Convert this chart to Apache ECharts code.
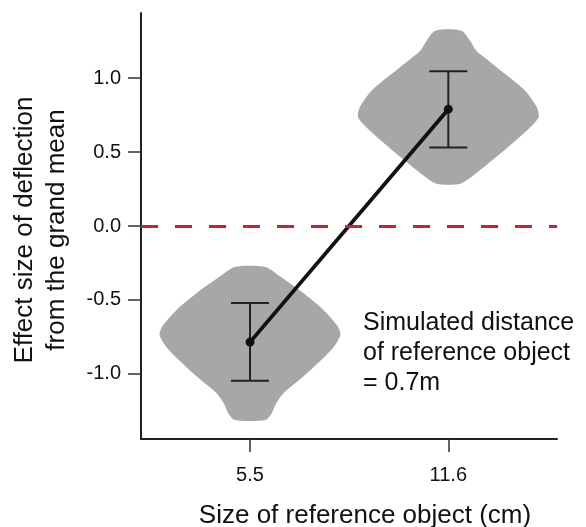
<!DOCTYPE html>
<html><head><meta charset="utf-8">
<script src="https://cdn.jsdelivr.net/npm/echarts@6/dist/echarts.min.js"></script>
<style>html,body{margin:0;padding:0;background:#fff}#c{width:586px;height:527px}</style>
</head><body><div id="c"></div>
<script>
// ---- data ----
const categories = ['5.5', '11.6'];
const categoryPos = [0, 1];
const means = [-0.785, 0.79];
const ciLow = [-1.047, 0.53];
const ciHigh = [-0.52, 1.047];
const yTicks = [-1.0, -0.5, 0.0, 0.5, 1.0];
const referenceValue = 0;
// violin outlines: y values and relative density (0..1)
const violinLeftY = [-0.277, -0.340, -0.453, -0.566, -0.679, -0.736, -0.815, -0.905, -1.018, -1.131, -1.199, -1.266, -1.312];
const violinLeftD = [0.17, 0.33, 0.59, 0.81, 0.97, 1.0, 0.93, 0.79, 0.59, 0.37, 0.29, 0.24, 0.17];
const violinRightY = [1.321, 1.253, 1.185, 1.140, 1.027, 0.914, 0.801, 0.738, 0.688, 0.575, 0.462, 0.349, 0.286];
const violinRightD = [0.14, 0.24, 0.31, 0.40, 0.63, 0.85, 0.98, 1.0, 0.94, 0.74, 0.52, 0.29, 0.13];
const yTitle = 'Effect size of deflection\nfrom the grand mean';
const xTitle = 'Size of reference object (cm)';
const note = 'Simulated distance\nof reference object\n= 0.7m';

// ---- chart ----
const FONT = "'Liberation Sans', Arial, Helvetica, sans-serif";
const TXT = '#111';
const violinHalf = 0.456; // max half-width in x units
const violins = [
  { x: categoryPos[0], ys: violinLeftY, ds: violinLeftD },
  { x: categoryPos[1], ys: violinRightY, ds: violinRightD }
];

const chart = echarts.init(document.getElementById('c'), null, { renderer: 'canvas' });
chart.setOption({
  animation: false,
  backgroundColor: '#fff',
  grid: { left: 141, top: 13, width: 416, height: 426, containLabel: false },
  xAxis: {
    type: 'value', min: -0.5497, max: 1.548,
    splitLine: { show: false },
    axisLine: { show: true, onZero: false, lineStyle: { color: '#222', width: 2 } },
    axisTick: { show: true, length: 13, customValues: categoryPos, lineStyle: { color: '#333', width: 1.5 } },
    axisLabel: {
      customValues: categoryPos, margin: 26,
      formatter: v => { const i = categoryPos.indexOf(Math.round(v)); return i >= 0 ? categories[i] : ''; },
      fontFamily: FONT, fontSize: 20, color: TXT
    }
  },
  yAxis: {
    type: 'value', min: -1.44, max: 1.44,
    splitLine: { show: false },
    axisLine: { show: true, onZero: false, lineStyle: { color: '#222', width: 2 } },
    axisTick: { show: true, length: 13, customValues: yTicks, lineStyle: { color: '#333', width: 1.5 } },
    axisLabel: {
      customValues: yTicks, margin: 20,
      formatter: v => v.toFixed(1),
      fontFamily: FONT, fontSize: 20, color: TXT
    }
  },
  series: [
    {
      type: 'custom', name: 'violin', z: 1, clip: false,
      data: violins.map((v, i) => [v.x, i]),
      renderItem: (params, api) => {
        const v = violins[api.value(1)];
        const left = [], right = [];
        for (let k = 0; k < v.ys.length; k++) {
          left.push(api.coord([v.x - v.ds[k] * violinHalf, v.ys[k]]));
          right.push(api.coord([v.x + v.ds[k] * violinHalf, v.ys[k]]));
        }
        const pts = left.concat(right.reverse());
        return { type: 'polygon', shape: { points: pts, smooth: 0.25 }, style: { fill: '#a7a7a7' } };
      }
    },
    {
      type: 'line', name: 'ref', z: 2, data: [],
      markLine: {
        silent: true, symbol: 'none', label: { show: false },
        lineStyle: { color: '#d81e2c', width: 3, type: [17, 17], opacity: 1 },
        data: [{ yAxis: referenceValue }]
      }
    },
    {
      type: 'custom', name: 'ci', z: 3,
      data: categoryPos.map((x, i) => [x, ciLow[i], ciHigh[i]]),
      renderItem: (params, api) => {
        const lo = api.coord([api.value(0), api.value(1)]);
        const hi = api.coord([api.value(0), api.value(2)]);
        const cap = 19;
        const st = { stroke: '#222', lineWidth: 2 };
        return { type: 'group', children: [
          { type: 'line', shape: { x1: lo[0], y1: lo[1], x2: hi[0], y2: hi[1] }, style: st },
          { type: 'line', shape: { x1: lo[0] - cap, y1: lo[1], x2: lo[0] + cap, y2: lo[1] }, style: st },
          { type: 'line', shape: { x1: hi[0] - cap, y1: hi[1], x2: hi[0] + cap, y2: hi[1] }, style: st }
        ] };
      }
    },
    {
      type: 'line', name: 'mean', z: 4,
      data: categoryPos.map((x, i) => [x, means[i]]),
      symbol: 'circle', symbolSize: 9,
      itemStyle: { color: '#111' },
      lineStyle: { color: '#111', width: 3.8 }
    }
  ],
  graphic: [
    { type: 'text', x: 41, y: 230, rotation: Math.PI / 2,
      style: { text: yTitle, fontFamily: FONT, fontSize: 26, lineHeight: 32, fill: TXT, textAlign: 'center', textVerticalAlign: 'middle' } },
    { type: 'text', x: 365, y: 516,
      style: { text: xTitle, fontFamily: FONT, fontSize: 26, fill: TXT, textAlign: 'center', textVerticalAlign: 'middle' } },
    { type: 'text', x: 363, y: 353,
      style: { text: note, fontFamily: FONT, fontSize: 25, lineHeight: 29.7, fill: TXT, textAlign: 'left', textVerticalAlign: 'middle' } }
  ]
});
</script></body></html>
